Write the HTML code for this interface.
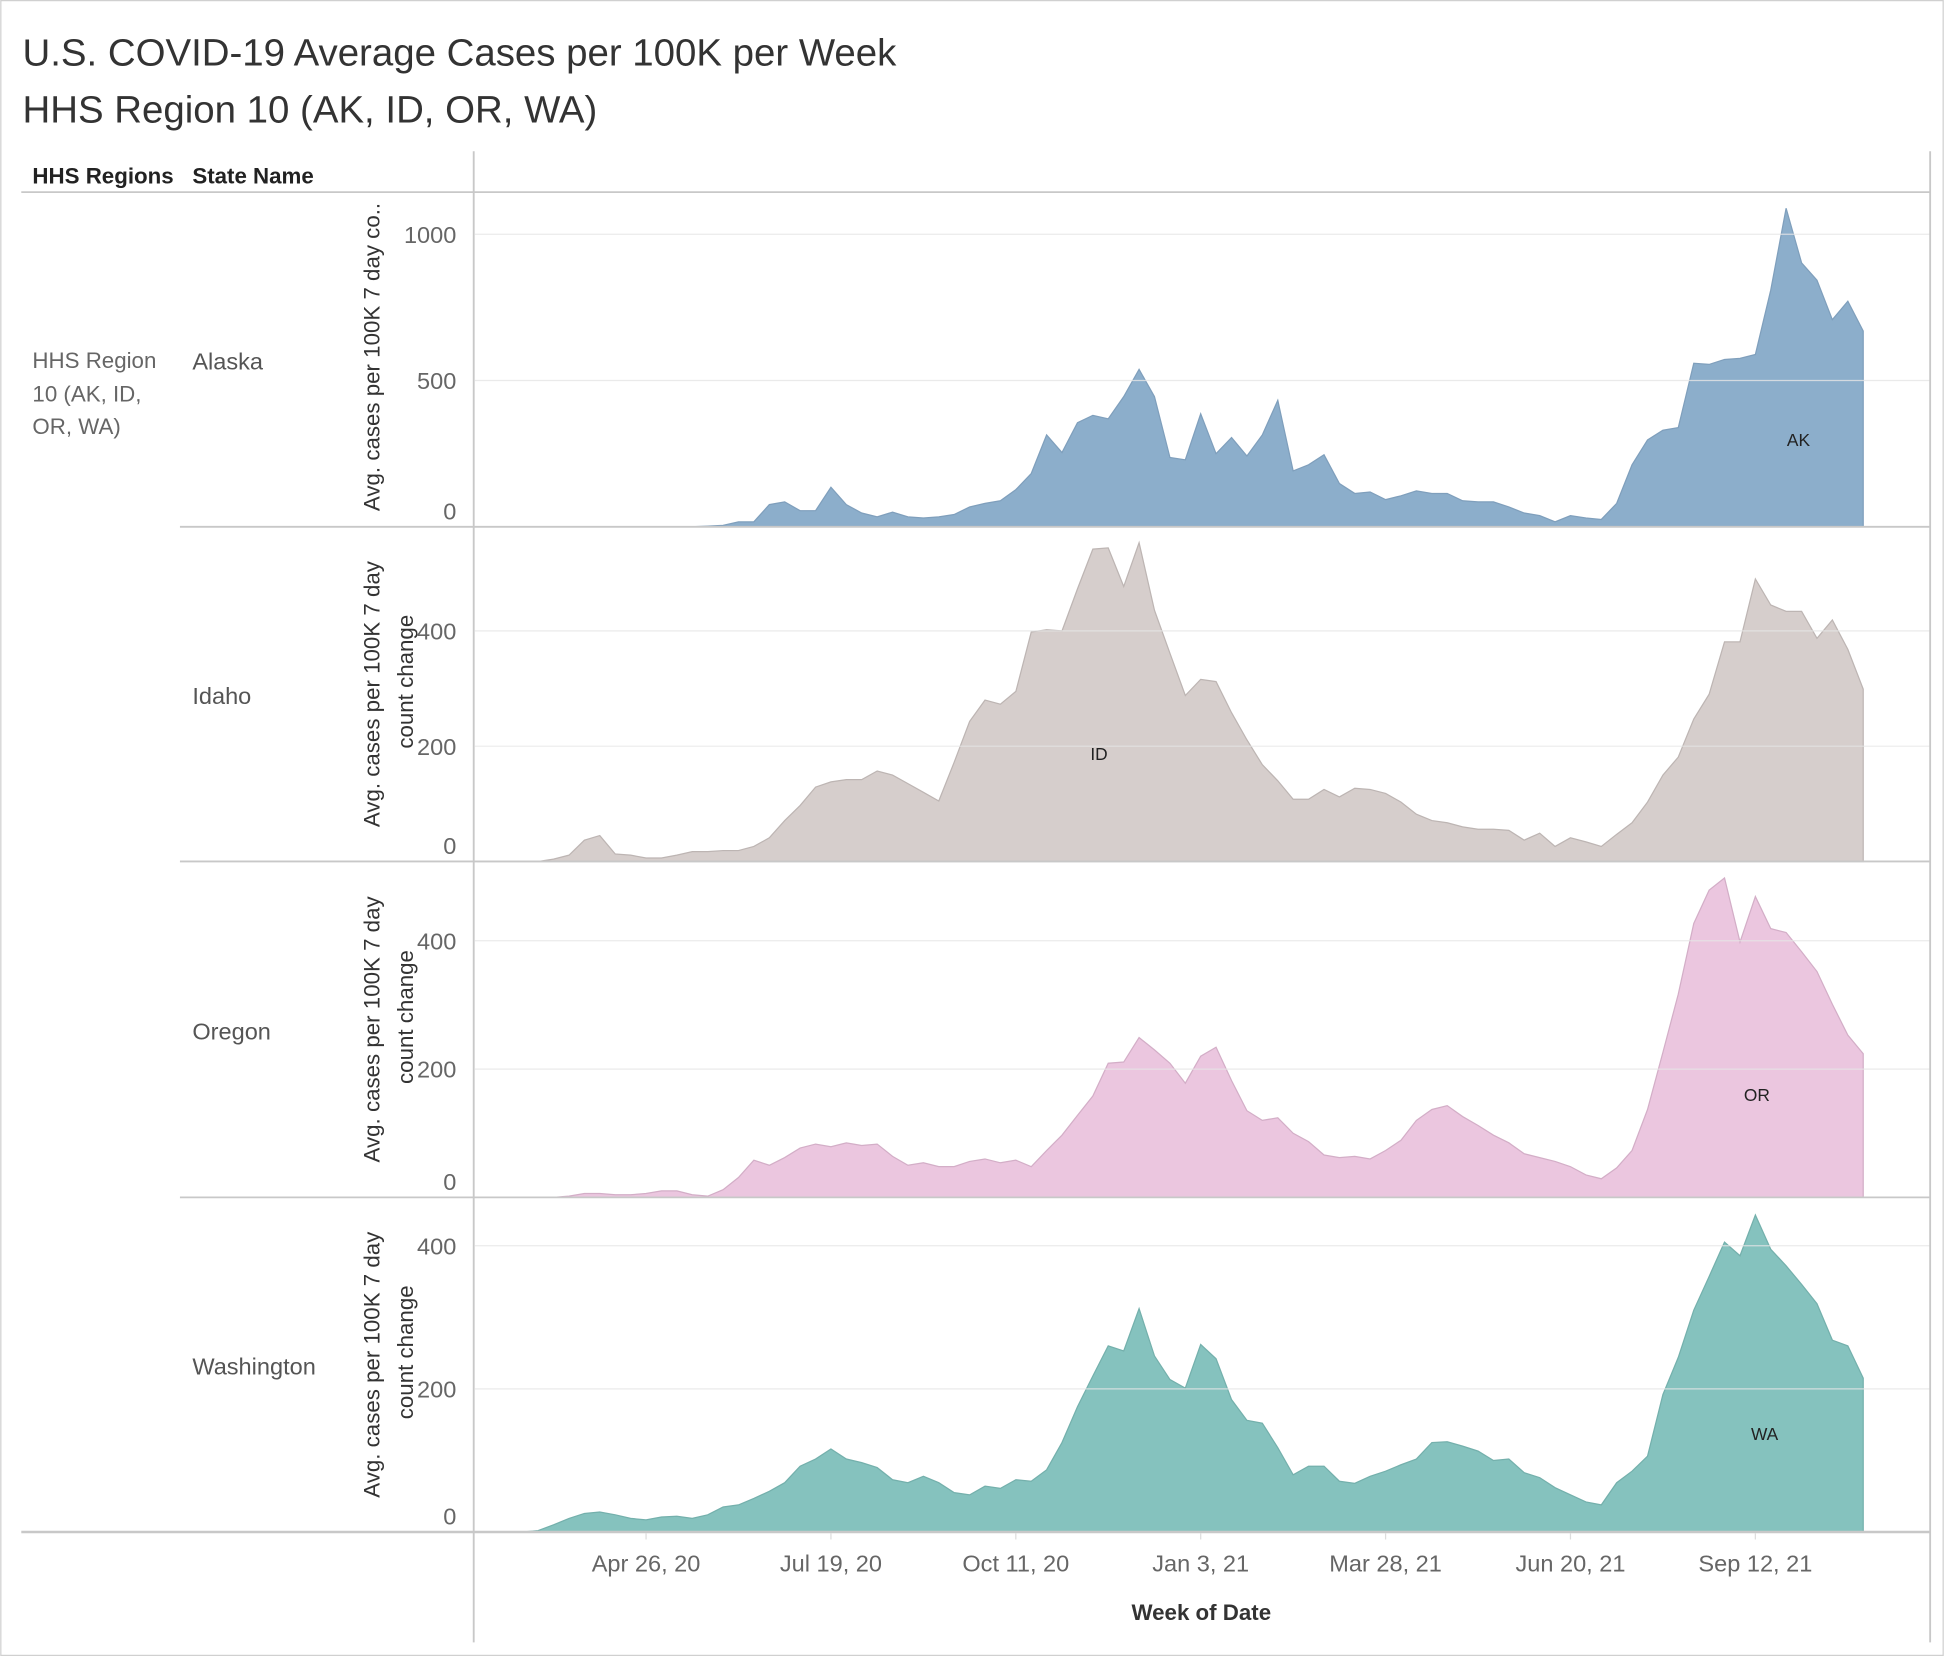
<!DOCTYPE html>
<html><head><meta charset="utf-8"><style>
html,body{margin:0;padding:0;background:#fff;}
svg{display:block;font-family:"Liberation Sans",sans-serif;}
</style></head><body>
<svg id="chart" width="1944" height="1656" viewBox="0 0 1568 1336" xmlns="http://www.w3.org/2000/svg">
<rect x="0.5" y="0.5" width="1567" height="1335" fill="#fff" stroke="#d0d0d0"/>
<text x="18" y="53" font-size="31" fill="#333">U.S. COVID-19 Average Cases per 100K  per Week</text>
<text x="18" y="99" font-size="31" fill="#333">HHS Region 10 (AK, ID, OR, WA)</text>
<text x="26" y="148" font-size="18" font-weight="bold" fill="#222">HHS Regions</text>
<text x="155" y="148" font-size="18" font-weight="bold" fill="#222">State Name</text>
<text font-size="18" fill="#666"><tspan x="26" y="297">HHS Region</tspan><tspan x="26" y="324">10 (AK, ID,</tspan><tspan x="26" y="350">OR, WA)</tspan></text>
<g id="panels"></g>
<g id="frame"></g>
<text x="969" y="1307" font-size="18" font-weight="bold" fill="#333" text-anchor="middle">Week of Date</text>
</svg>
<script>
const startDate = "2020-02-09";
const tickLabels = ["Apr 26, 20","Jul 19, 20","Oct 11, 20","Jan 3, 21","Mar 28, 21","Jun 20, 21","Sep 12, 21"];
const tickWeeks = [11,23,35,47,59,71,83];
const states = ["Alaska","Idaho","Oregon","Washington"];
const abbrs = ["AK","ID","OR","WA"];
const akValues = [0,0,0,0,0,0,0,0,0,0,0,0,0,0,0,2,5,17,17,76,85,55,55,135,76,47,34,50,34,30,34,42,68,80,89,127,182,314,254,356,381,369,445,538,445,237,229,386,250,305,242,314,432,191,212,246,148,114,119,93,106,123,114,114,89,85,85,68,47,38,17,38,30,25,80,212,297,330,339,559,555,572,576,589,809,1089,902,843,708,771,669];
const idValues = [0,0,0,0,0,4,11,37,45,13,11,6,6,11,17,17,19,19,26,41,71,97,129,138,142,142,157,150,135,120,105,172,243,280,273,295,398,402,400,473,542,544,477,553,436,361,288,316,312,258,211,168,140,108,108,125,112,127,125,118,103,82,71,67,60,56,56,54,37,49,26,41,34,26,47,67,103,150,181,247,290,381,381,490,445,434,434,387,419,368,299];
const orValues = [0,0,0,0,0,0,2,6,6,4,4,6,10,10,4,2,12,31,58,50,62,77,83,79,85,81,83,64,50,54,48,48,56,60,54,58,48,73,97,128,158,209,211,249,230,209,178,220,234,182,135,120,124,100,87,66,62,64,60,73,89,120,137,143,126,112,97,85,68,62,56,48,35,29,46,73,137,226,317,427,479,498,398,469,419,413,383,352,301,253,224];
const waValues = [0,0,0,0,2,10,19,26,28,24,19,17,21,22,19,24,35,38,47,57,69,92,102,116,102,97,90,73,69,78,69,55,52,64,61,73,71,87,125,175,218,260,253,312,246,213,201,262,242,185,156,152,118,80,92,92,71,68,78,85,94,102,125,126,120,113,100,102,83,76,62,52,42,38,69,85,106,192,244,310,357,405,386,443,395,372,346,319,268,260,215];
const yTicksAK = [0,500,1000];
const yTicksOther = [0,200,400];
const labelWeeks = [85.8,40.4,83.1,83.6];
const labelLevels = [297,187,160,137];

const NS = "http://www.w3.org/2000/svg";
const panelTop = [155,425,695,966];
const panelBottom = [425,695,966,1236];
const unitPx = [118/500, 93/200, 103.5/200, 115.5/200];
const seriesList = [akValues, idValues, orValues, waValues];
const fills = ["#8caecb","#d6cecc","#ebc6df","#85c2be"];
const strokes = ["#7f9fbc","#bdb5b3","#d3aec7","#74b0ac"];
function xScale(week){ return 384.3 + week*12.43; }
function yScale(p, v){ return panelBottom[p] - v*unitPx[p]; }
function mk(tag, attrs){ const e=document.createElementNS(NS,tag); for(const k in attrs) e.setAttribute(k,attrs[k]); return e; }
const panels = document.getElementById('panels');
const frame = document.getElementById('frame');

for(let p=0;p<4;p++){
  const g = mk('g',{});
  
  
  const vals = seriesList[p];
  let d = "M" + xScale(0) + "," + panelBottom[p];
  vals.forEach((v,i)=>{ d += " L" + xScale(i).toFixed(1) + "," + yScale(p,v).toFixed(1); });
  d += " L" + xScale(vals.length-1).toFixed(1) + "," + panelBottom[p] + " Z";
  const area = mk('path',{d:d, fill:fills[p], stroke:strokes[p], 'stroke-width':1});
  
  
  g.appendChild(area);
  const ticks = p===0 ? yTicksAK : yTicksOther;
  ticks.forEach(t=>{
    const y = yScale(p,t);
    if(t>0){
      const gl = mk('line',{x1:383,x2:1557,y1:y,y2:y,stroke:'#e6e6e6','stroke-width':1,opacity:0.8});
      
      
      g.appendChild(gl);
    }
    const lbl = mk('text',{x:368,y:(t===0? y-6 : y+7),'font-size':19,fill:'#666','text-anchor':'end'});
    lbl.textContent = String(t);
    
    
    g.appendChild(lbl);
  });
  const st = mk('text',{x:155,y:(panelTop[p]+panelBottom[p])/2+8,'font-size':19,fill:'#555'});
  st.textContent = states[p];
  
  
  g.appendChild(st);
  const cy = (panelTop[p]+panelBottom[p])/2;
  if(p===0){
    const t = mk('text',{transform:'translate(306,'+(cy-2)+') rotate(-90)','font-size':18,fill:'#333','text-anchor':'middle'});
    t.textContent = "Avg. cases per 100K 7 day co..";
    
    
    g.appendChild(t);
  } else {
    const t = mk('text',{transform:'translate(306,'+cy+') rotate(-90)','font-size':18,fill:'#333','text-anchor':'middle'});
    t.textContent = "Avg. cases per 100K 7 day";
    
    
    g.appendChild(t);
    const t2 = mk('text',{transform:'translate(333,'+(cy-10)+') rotate(-90)','font-size':18,fill:'#333','text-anchor':'middle'});
    t2.textContent = "count change";
    
    
    g.appendChild(t2);
  }
  const ml = mk('text',{x:xScale(labelWeeks[p]),y:yScale(p,labelLevels[p])+5,'font-size':14,fill:'#222','text-anchor':'middle'});
  ml.textContent = abbrs[p];
  
  
  g.appendChild(ml);
  panels.appendChild(g);
}

const lines = [
  [17,155,1557,155,'#c8c8c8',1.5],
  [145,425,1557,425,'#c8c8c8',1.5],
  [145,695,1557,695,'#c8c8c8',1.5],
  [145,966,1557,966,'#c8c8c8',1.5],
  [17,1236,1557,1236,'#c8c8c8',2],
  [382,122,382,1325,'#c8c8c8',1.5],
  [1557,122,1557,1325,'#c8c8c8',1.5]
];
lines.forEach(l=>{
  const e = mk('line',{x1:l[0],y1:l[1],x2:l[2],y2:l[3],stroke:l[4],'stroke-width':l[5]});
  
  
  frame.appendChild(e);
});
tickLabels.forEach((lab,i)=>{
  const x = xScale(tickWeeks[i]);
  const tk = mk('line',{x1:x,x2:x,y1:1237,y2:1242,stroke:'#ddd','stroke-width':1});
  
  
  frame.appendChild(tk);
  const t = mk('text',{x:x,y:1268,'font-size':19,fill:'#666','text-anchor':'middle'});
  t.textContent = lab;
  
  
  frame.appendChild(t);
});
</script>
</body></html>
